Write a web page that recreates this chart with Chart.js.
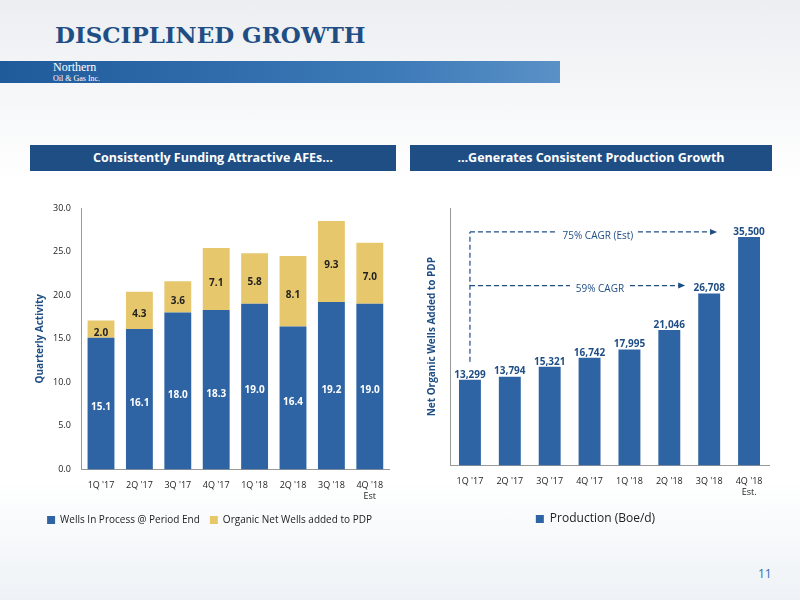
<!DOCTYPE html>
<html><head><meta charset="utf-8">
<script src="https://cdn.jsdelivr.net/npm/chart.js@4"></script>
<style>
body{margin:0;width:800px;height:600px;overflow:hidden;background:linear-gradient(#eceef1,#ffffff 30%,#ffffff 80%,#eef2f6);font-family:"Open Sans",sans-serif;position:relative}
#title{position:absolute;left:55px;top:21px;font:bold 23px "DejaVu Serif",serif;color:#1f4e85;letter-spacing:0px}
#band{position:absolute;left:0;top:61px;width:560px;height:22px;background:linear-gradient(90deg,#1f5a9a,#3d7ab8 70%,#5a91c6)}
#logo{position:absolute;left:53px;top:62px;color:#fff;font:12px "Liberation Serif",serif;line-height:10px}
#logo small{font-size:8px}
.hdr{position:absolute;top:145px;height:26px;background:#1f4e85;color:#fff;font:bold 12.5px "Open Sans",sans-serif;text-align:center;line-height:26px}
#page{position:absolute;left:758px;top:565px;color:#2f6db2;font-size:12px}
canvas{position:absolute}
</style></head><body>
<div id="title">DISCIPLINED GROWTH</div>
<div id="band"></div>
<div id="logo">Northern<br><small>Oil &amp; Gas Inc.</small></div>
<div class="hdr" style="left:30px;width:366px">Consistently Funding Attractive AFEs…</div>
<div class="hdr" style="left:410px;width:362px">…Generates Consistent Production Growth</div>
<div id="page">11</div>
<div style="position:absolute;left:25px;top:190px;width:375px;height:345px"><canvas id="c1"></canvas></div>
<div style="position:absolute;left:410px;top:190px;width:365px;height:345px"><canvas id="c2"></canvas></div>
<script>
const quarters = [["1Q '17"], ["2Q '17"], ["3Q '17"], ["4Q '17"], ["1Q '18"], ["2Q '18"], ["3Q '18"], ["4Q '18", "Est"]];
const quartersR = [["1Q '17"], ["2Q '17"], ["3Q '17"], ["4Q '17"], ["1Q '18"], ["2Q '18"], ["3Q '18"], ["4Q '18", "Est."]];
const wellsInProcess = [15.1, 16.1, 18.0, 18.3, 19.0, 16.4, 19.2, 19.0];
const organicNetWells = [2.0, 4.3, 3.6, 7.1, 5.8, 8.1, 9.3, 7.0];
const production = [13299, 13794, 15321, 16742, 17995, 21046, 26708, 35500];
const cagrLabels = ["75% CAGR (Est)", "59% CAGR"];

const BLUE = "#2e64a3", GOLD = "#e6c76b", NAVY = "#1f4e85";
Chart.defaults.font.family = "'Open Sans', sans-serif";
Chart.defaults.color = "#222";

const stackLabels = {
  id: "stackLabels",
  afterDatasetsDraw(chart) {
    const ctx = chart.ctx;
    ctx.save();
    ctx.font = "bold 10px 'Open Sans'";
    ctx.textAlign = "center";
    chart.getDatasetMeta(0).data.forEach((b, i) => {
      ctx.fillStyle = "#fff";
      ctx.fillText(wellsInProcess[i].toFixed(1), b.x, chart.scales.y.getPixelForValue(wellsInProcess[i] / 2) + 4);
    });
    chart.getDatasetMeta(1).data.forEach((b, i) => {
      ctx.fillStyle = "#222";
      const mid = wellsInProcess[i] + organicNetWells[i] / 2;
      ctx.fillText(organicNetWells[i].toFixed(1), b.x, chart.scales.y.getPixelForValue(mid) + 4);
    });
    ctx.restore();
  }
};

new Chart(document.getElementById("c1"), {
  type: "bar",
  data: {
    labels: quarters,
    datasets: [
      { label: "Wells In Process @ Period End", data: wellsInProcess, backgroundColor: BLUE, barPercentage: 0.7, categoryPercentage: 1 },
      { label: "Organic Net Wells added to PDP", data: organicNetWells, backgroundColor: GOLD, barPercentage: 0.7, categoryPercentage: 1 }
    ]
  },
  options: {
    responsive: true, maintainAspectRatio: false, animation: false,
    layout: { padding: { left: 5, right: 11, top: 18 } },
    plugins: {
      legend: { position: "bottom", labels: { boxWidth: 8, boxHeight: 8, font: { size: 10 }, padding: 10 } },
      tooltip: { enabled: false }
    },
    scales: {
      x: { stacked: true, grid: { display: false }, border: { color: "#999" }, ticks: { font: { size: 9 } } },
      y: {
        stacked: true, min: 0, max: 30, grid: { display: false }, border: { color: "#999" },
        ticks: { stepSize: 5, font: { size: 9 }, callback: v => v.toFixed(1) },
        title: { display: true, text: "Quarterly Activity", color: NAVY, font: { size: 10, weight: "bold" } }
      }
    }
  },
  plugins: [stackLabels]
});

const prodLabels = {
  id: "prodLabels",
  afterDatasetsDraw(chart) {
    const ctx = chart.ctx, y = chart.scales.y;
    const bars = chart.getDatasetMeta(0).data;
    ctx.save();
    ctx.font = "bold 10px 'Open Sans'";
    ctx.textAlign = "center";
    ctx.fillStyle = NAVY;
    bars.forEach((b, i) => ctx.fillText(production[i].toLocaleString("en-US"), b.x, b.y - 5));
    // CAGR guides
    const x0 = bars[0].x;
    const y75 = y.getPixelForValue(production[7]) - 5;
    const y59 = y.getPixelForValue(production[6]) - 8;
    ctx.strokeStyle = NAVY; ctx.lineWidth = 1.2; ctx.setLineDash([5, 3]);
    ctx.beginPath();
    ctx.moveTo(x0, bars[0].y - 18); ctx.lineTo(x0, y75);
    ctx.moveTo(x0, y75); ctx.lineTo(x0 + 88, y75);
    ctx.moveTo(x0 + 168, y75); ctx.lineTo(bars[7].x - 38, y75);
    ctx.moveTo(x0, y59); ctx.lineTo(x0 + 100, y59);
    ctx.moveTo(x0 + 160, y59); ctx.lineTo(bars[6].x - 30, y59);
    ctx.stroke();
    ctx.setLineDash([]);
    ctx.fillStyle = NAVY;
    [[bars[7].x - 38, y75], [bars[6].x - 30, y59]].forEach(([ax, ay]) => {
      ctx.beginPath(); ctx.moveTo(ax + 6, ay); ctx.lineTo(ax - 1, ay - 3); ctx.lineTo(ax - 1, ay + 3); ctx.fill();
    });
    ctx.font = "10px 'Open Sans'";
    ctx.fillText(cagrLabels[0], x0 + 128, y75 + 4);
    ctx.fillText(cagrLabels[1], x0 + 130, y59 + 4);
    ctx.restore();
  }
};

new Chart(document.getElementById("c2"), {
  type: "bar",
  data: {
    labels: quartersR,
    datasets: [{ label: "Production (Boe/d)", data: production, backgroundColor: BLUE, barPercentage: 0.55, categoryPercentage: 1 }]
  },
  options: {
    responsive: true, maintainAspectRatio: false, animation: false,
    layout: { padding: { left: 12, right: 6, top: 18 } },
    plugins: {
      legend: { position: "bottom", labels: { boxWidth: 8, boxHeight: 8, font: { size: 12 }, padding: 12 } },
      tooltip: { enabled: false }
    },
    scales: {
      x: { grid: { display: false }, border: { color: "#999" }, ticks: { font: { size: 9 } } },
      y: {
        min: 0, max: 40000, grid: { display: false }, border: { color: "#999" },
        ticks: { display: false },
        title: { display: true, text: "Net Organic Wells Added to PDP", color: NAVY, font: { size: 10, weight: "bold" } }
      }
    }
  },
  plugins: [prodLabels]
});
</script>
</body></html>
